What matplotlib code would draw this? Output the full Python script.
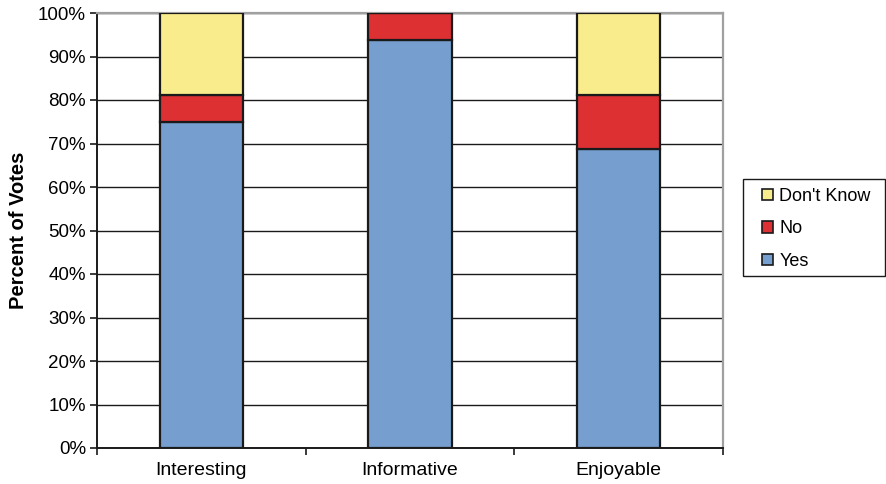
import matplotlib
matplotlib.use("Agg")
import matplotlib.pyplot as plt
from matplotlib.ticker import FixedLocator, FuncFormatter
from matplotlib.patches import Patch, Rectangle

plt.rcParams['font.family'] = ['Liberation Sans', 'DejaVu Sans']

categories = ["Interesting", "Informative", "Enjoyable"]
yes = [75.0, 93.75, 68.75]
no = [6.25, 6.25, 12.5]
dont_know = [18.75, 0.0, 18.75]

series = [("Yes", yes, "#769fd0"), ("No", no, "#dd3033"), ("Don't Know", dont_know, "#f9ec8c")]

W, H = 887, 484
fig = plt.figure(figsize=(W / 100, H / 100), dpi=100)
ax = fig.add_axes([97 / W, 1 - 448 / H, (723 - 97) / W, (448 - 13) / H])

x = list(range(len(categories)))
bottom = [0.0] * len(categories)
for name, vals, color in series:
    ax.bar(x, vals, width=0.4, bottom=bottom, color=color, edgecolor="#1a1a1a",
           linewidth=1.6, zorder=3)
    bottom = [b + v for b, v in zip(bottom, vals)]

ax.set_xlim(-0.5, len(categories) - 0.5)
ax.set_ylim(0, 100)
ax.set_yticks(range(0, 101, 10))
ax.yaxis.set_major_formatter(FuncFormatter(lambda v, p: f"{int(v)}%"))
ax.yaxis.grid(True, color="#1a1a1a", linewidth=1.0, zorder=0)
ax.set_axisbelow(True)

ax.xaxis.set_major_locator(FixedLocator([-0.5 + i for i in range(len(categories) + 1)]))
ax.xaxis.set_major_formatter(FuncFormatter(lambda v, p: ""))
ax.xaxis.set_minor_locator(FixedLocator(x))
ax.set_xticklabels(categories, minor=True)
ax.tick_params(axis="x", which="minor", length=0, pad=10, labelsize=14)
ax.tick_params(axis="x", which="major", length=5, width=1.2, direction="out", color="#1a1a1a")
ax.tick_params(axis="y", length=5, width=1.2, direction="out", color="#1a1a1a", labelsize=13.5, pad=3)

for side in ("left", "bottom"):
    ax.spines[side].set_color("#1a1a1a")
    ax.spines[side].set_linewidth(1.4)
for side in ("top", "right"):
    ax.spines[side].set_color("#a0a0a0")
    ax.spines[side].set_linewidth(1.6)

fig.text(19 / W, 1 - 230 / H, "Percent of Votes", rotation=90, ha="center", va="center",
         fontsize=14.5, fontweight="bold")

# legend box
fig.patches.append(Rectangle((743 / W, 1 - 276 / H), (885 - 743) / W, (276 - 179) / H,
                             transform=fig.transFigure, facecolor="white",
                             edgecolor="#1a1a1a", linewidth=1.0))
handles = [Patch(facecolor=c, edgecolor="#1a1a1a", linewidth=1.2, label=n)
           for n, _, c in reversed(series)]
leg = fig.legend(handles=handles, loc="upper left", bbox_to_anchor=(762 / W, 1 - 188 / H),
                 frameon=False, fontsize=13,
                 handlelength=0.6, handleheight=0.6, handletextpad=0.35,
                 labelspacing=0.85, borderpad=0, borderaxespad=0)

fig.savefig("out.png", dpi=100)
